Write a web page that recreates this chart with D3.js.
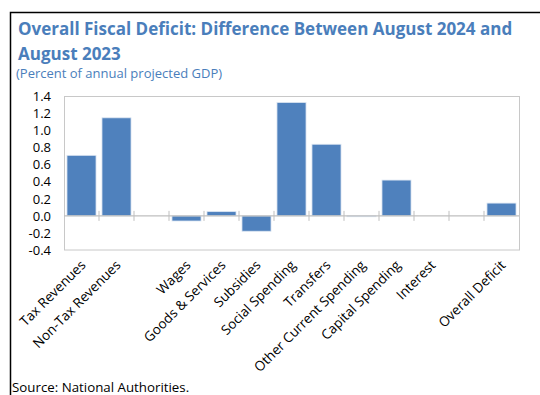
<!DOCTYPE html>
<html>
<head>
<meta charset="utf-8">
<script src="https://cdn.jsdelivr.net/npm/d3@7"></script>
<style>
  html, body { margin: 0; padding: 0; background: #fff; }
  svg { display: block; font-family: "Open Sans", "Noto Sans", sans-serif; }
</style>
</head>
<body>
<svg id="chart" width="540" height="395"></svg>
<script>
// Change in fiscal balance components, August 2024 vs August 2023 (% of GDP)
const categories = [
  "Tax Revenues", "Non-Tax Revenues", "", "Wages", "Goods & Services",
  "Subsidies", "Social Spending", "Transfers", "Other Current Spending",
  "Capital Spending", "Interest", " ", "Overall Deficit"
];
const values = [0.71, 1.15, null, -0.06, 0.05, -0.18, 1.33, 0.84, -0.01, 0.42, 0.0, null, 0.15];
const yTicks = [-0.4, -0.2, 0.0, 0.2, 0.4, 0.6, 0.8, 1.0, 1.2, 1.4];
const titleLines = ["Overall Fiscal Deficit: Difference Between August 2024 and", "August 2023"];
const subtitle = "(Percent of annual projected GDP)";
const source = "Source: National Authorities.";

const blue = "#4f81bd";
const titleBlue = "#4a7ebb";
const svg = d3.select("#chart");

// outer frame
svg.append("rect")
  .attr("x", 10.5).attr("y", 12.5)
  .attr("width", 540).attr("height", 400)
  .attr("fill", "none").attr("stroke", "#000").attr("stroke-width", 1.5);

// titles
svg.selectAll("text.title").data(titleLines).join("text")
  .attr("class", "title")
  .attr("x", 18).attr("y", (d, i) => 35 + i * 25)
  .attr("fill", titleBlue).attr("font-weight", 700).attr("font-size", 17)
  .text(d => d);

svg.append("text")
  .attr("x", 16).attr("y", 78)
  .attr("fill", titleBlue).attr("font-size", 13)
  .text(subtitle);

const m = { left: 64, right: 519, top: 96.5, bottom: 250 };

const x = d3.scaleBand().domain(categories).range([m.left, m.right]).paddingInner(0.17).paddingOuter(0.085);
const xSlot = d3.scaleBand().domain(categories).range([m.left, m.right]);
const y = d3.scaleLinear().domain([-0.4, 1.4]).range([m.bottom, m.top]);

// plot frame
svg.append("rect")
  .attr("x", m.left + 0.5).attr("y", m.top)
  .attr("width", m.right - m.left).attr("height", m.bottom - m.top)
  .attr("fill", "none").attr("stroke", "#c8c8c8").attr("stroke-width", 1);

// bars
svg.append("g").selectAll("rect")
  .data(categories.map((c, i) => ({ c, v: values[i] })).filter(d => d.v !== null))
  .join("rect")
  .attr("x", d => x(d.c))
  .attr("width", x.bandwidth())
  .attr("y", d => y(Math.max(0, d.v)))
  .attr("height", d => Math.abs(y(d.v) - y(0)))
  .attr("fill", blue)
  .attr("stroke", "#dce6f2").attr("stroke-width", 0.8);

// zero line with category separators
const zero = y(0);
svg.append("line")
  .attr("x1", m.left).attr("x2", m.right)
  .attr("y1", zero).attr("y2", zero)
  .attr("stroke", "#bfbfbf").attr("stroke-width", 1.2);
svg.append("g").selectAll("line")
  .data(categories.slice(1))
  .join("line")
  .attr("x1", d => xSlot(d)).attr("x2", d => xSlot(d))
  .attr("y1", zero - 5).attr("y2", zero + 5)
  .attr("stroke", "#bfbfbf").attr("stroke-width", 1);

// y axis labels
const yAxis = d3.axisLeft(y).tickValues(yTicks).tickFormat(d3.format(".1f")).tickSize(0).tickPadding(0);
const gy = svg.append("g").attr("transform", `translate(51,0)`).call(yAxis);
gy.select(".domain").remove();
gy.selectAll("text").attr("font-size", 13).attr("fill", "#000")
  .attr("font-family", "\"Open Sans\", \"Noto Sans\", sans-serif")
  .text(d => d3.format(".1f")(d).replace("−", "-"));

// x labels rotated
svg.append("g").selectAll("text")
  .data(categories.filter(c => c.trim() !== ""))
  .join("text")
  .attr("transform", d => `translate(${xSlot(d) + xSlot.bandwidth() / 2 + 5},${m.bottom + 16}) rotate(-45)`)
  .attr("text-anchor", "end")
  .attr("font-size", 13.5)
  .attr("fill", "#000")
  .text(d => d);

svg.append("text")
  .attr("x", 12).attr("y", 392)
  .attr("font-size", 13.3).attr("fill", "#000")
  .text(source);
</script>
</body>
</html>
